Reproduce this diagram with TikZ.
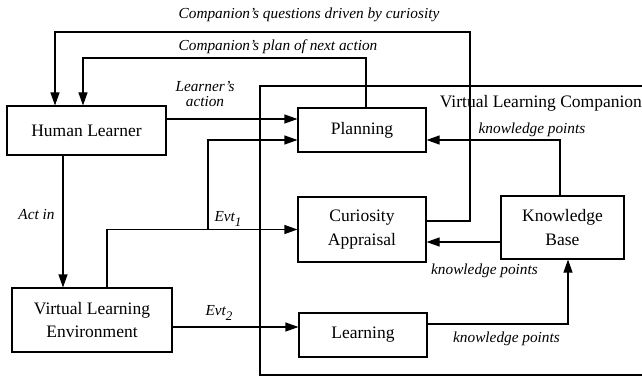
\documentclass[tikz,border=0pt]{standalone}
\usepackage{fontspec}
\setmainfont{Liberation Serif}
\usetikzlibrary{arrows.meta,positioning}

\newcommand{\evtsub}[1]{\raisebox{-4.5pt}{\fontsize{13}{13}\selectfont #1}}

\begin{document}
\begin{tikzpicture}
[x=1pt, y=-1pt, draw=black, line width=1.1pt, >={Triangle[length=13pt,width=9pt]},
block/.style={rectangle, draw, inner sep=0pt, align=center, font=\fontsize{17.5}{23.5}\selectfont},
lbl/.style={inner sep=0pt, align=center, font=\fontsize{15.3}{15.5}\selectfont\itshape}]

\path[use as bounding box, clip] (0,0) rectangle (642,377);

% companion frame
\draw (260,86) rectangle (660,375);
\node[anchor=west, font=\fontsize{17.5}{21}\selectfont] (vlc) at (436,103) {Virtual Learning Companion};

\node[block, minimum width=159pt, minimum height=49pt] (learner) at (86.5,130.5) {Human Learner};
\node[block, minimum width=160pt, minimum height=64pt] (vle) at (92,320) {Virtual Learning\\Environment};
\node[block, minimum width=128pt, minimum height=44pt] (planning) at (362,130) {Planning};
\node[block, minimum width=128pt, minimum height=65pt] (curiosity) at (362,229.5) {Curiosity\\Appraisal};
\node[block, minimum width=128pt, minimum height=44pt] (learning) at (363,335) {Learning};
\node[block, minimum width=123pt, minimum height=63pt] (kb) at (562.5,227.5) {Knowledge\\Base};

\coordinate (qturn) at (470,32);
\coordinate (pturn) at (366,58);
\coordinate (evtsplit) at (208,229.5);

\draw[->] ([yshift=8.5pt]curiosity.east) -| (qturn) -| ([xshift=-31.5pt]learner.north);
\draw[->] ([xshift=4pt]planning.north) |- (pturn) -| ([xshift=-3.5pt]learner.north);
\draw[->] ([yshift=11.5pt]learner.east) -- ([yshift=11.5pt]learner.east -| planning.west);
\draw[->] ([xshift=-23.5pt]learner.south) -- ([xshift=-23.5pt]learner.south |- vle.north);
\draw[->] ([xshift=15pt]vle.north) |- (curiosity.west);
\draw[->] (evtsplit) |- ([yshift=-10pt]planning.west);
\draw[->] ([yshift=-7pt]vle.east) -- ([yshift=-7pt]vle.east -| learning.west);
\draw[->] ([xshift=-2.5pt]kb.north) |- ([yshift=-10pt]planning.east);
\draw[->] ([yshift=-14.5pt]kb.west) -- ([yshift=-14.5pt]kb.west -| curiosity.east);
\draw[->] ([yshift=11pt]learning.east) -| ([xshift=5.5pt]kb.south);

\node[lbl] (qlabel) at (309,15) {Companion's questions driven by curiosity};
\node[lbl] (plabel) at (278,47) {Companion's plan of next action};
\node[lbl] (actlabel) at (205,94) {Learner's\\action};
\node[lbl] (actin) at (36.5,215) {Act in};
\node[lbl] (evt1) at (228,219) {Evt\evtsub{1}};
\node[lbl] (evt2) at (219,313) {Evt\evtsub{2}};
\node[lbl] (kp1) at (532,130) {knowledge points};
\node[lbl] (kp2) at (484.5,271) {knowledge points};
\node[lbl] (kp3) at (506.5,339) {knowledge points};

\end{tikzpicture}
\end{document}
